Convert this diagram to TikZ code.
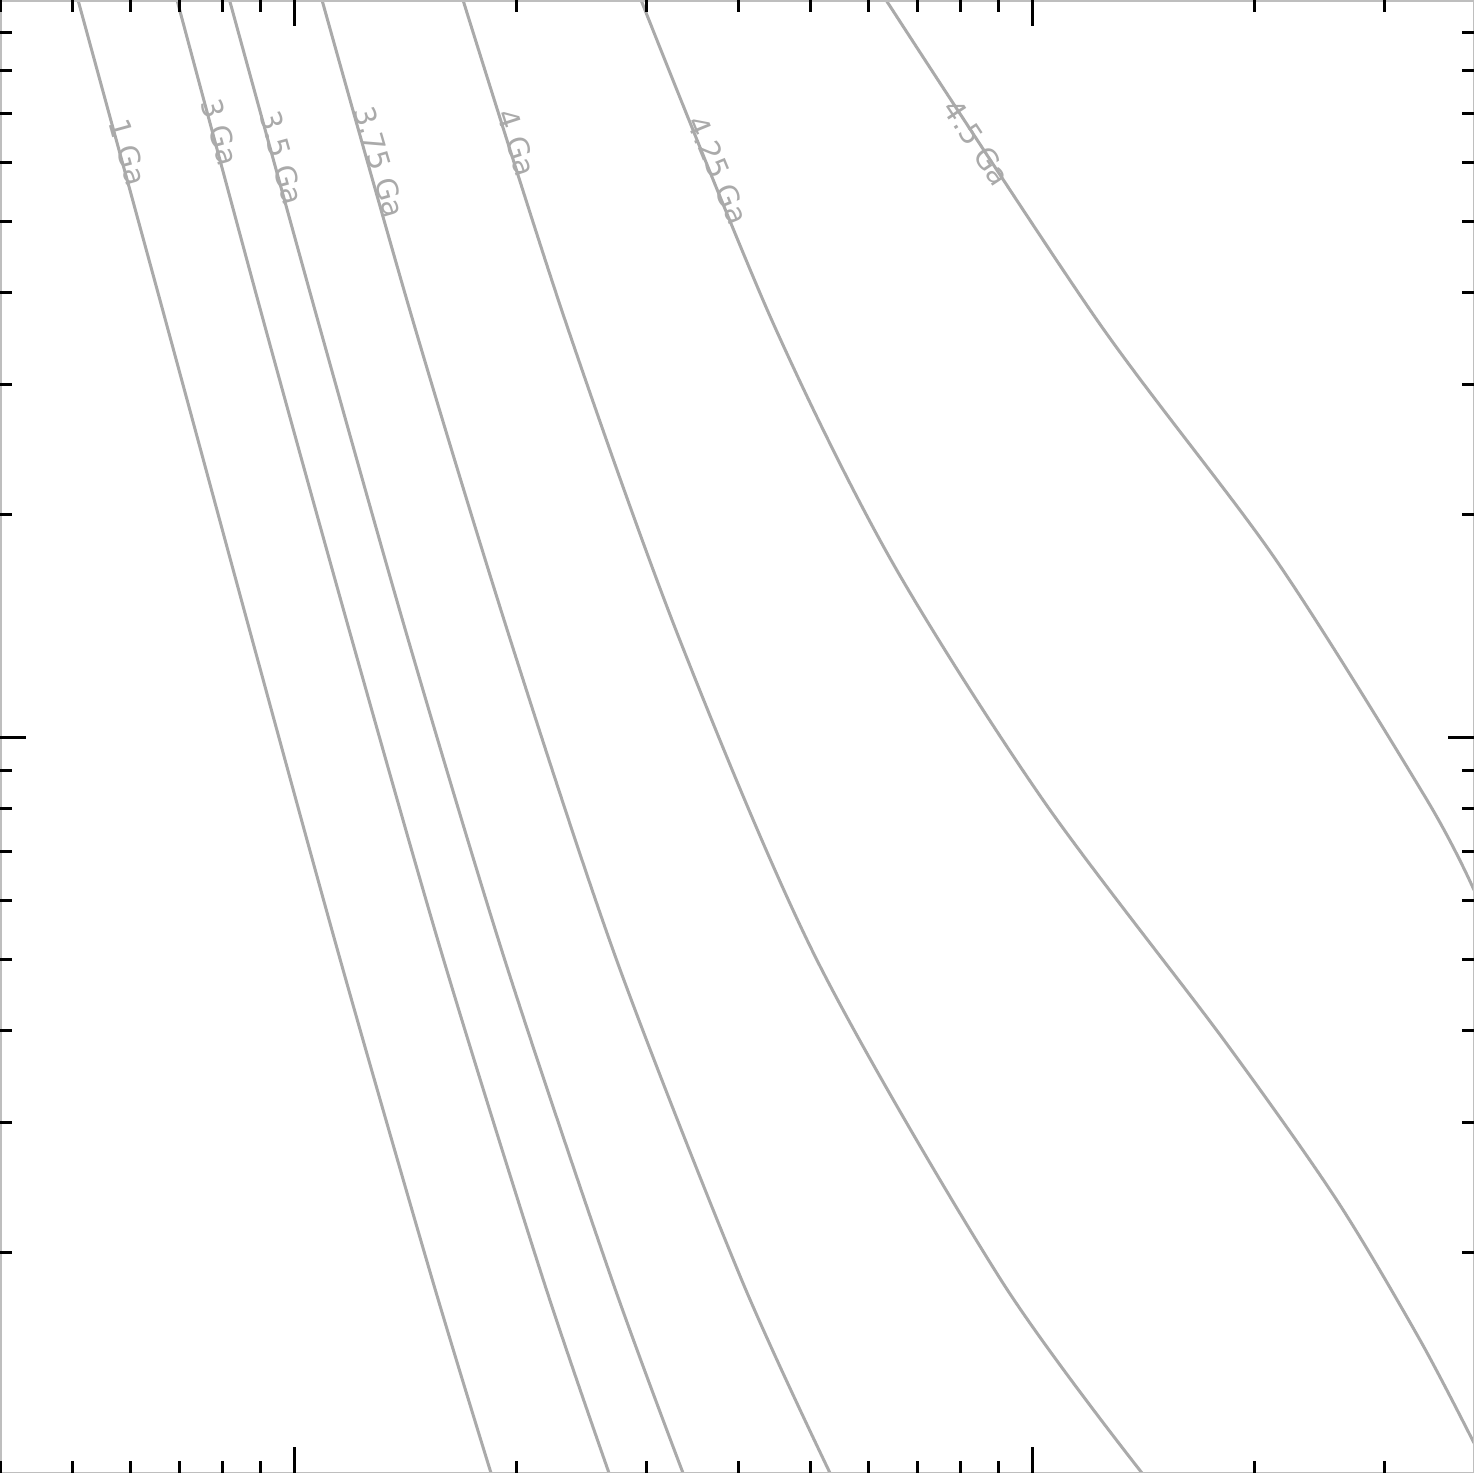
\documentclass[tikz,border=0pt]{standalone}
\usepackage{fontspec}
\setmainfont{DejaVu Sans}
\definecolor{cgray}{RGB}{170,170,170}
\definecolor{fgray}{RGB}{190,190,190}
\begin{document}
\begin{tikzpicture}[x=0.5pt,y=-0.5pt,
  curve/.style={cgray, line width=1.5pt},
  lbl/.style={text=cgray, font=\fontsize{14.5}{17}\selectfont, inner sep=0pt},
  tickmin/.style={black, line width=1.5pt},
  tickmaj/.style={black, line width=1.5pt},
  frame/.style={fgray, line width=0.75pt}]
\useasboundingbox (0,0) rectangle (1474,1473);
\fill[white] (0,0) rectangle (1474,1473);
\begin{scope}
\clip (0,0) rectangle (1474,1473);
% 1 Ga
\draw[curve] plot[smooth] coordinates {(78,0) (165.4,320) (252.3,640) (340.3,960) (432.4,1280) (491,1473)};
% 3 Ga
\draw[curve] plot[smooth] coordinates {(177,0) (263.2,320) (352,640) (443.7,960) (543.3,1280) (609,1473)};
% 3.5 Ga
\draw[curve] plot[smooth] coordinates {(229.5,0) (317.7,320) (408.3,640) (504.8,960) (612,1280) (683,1473)};
% 3.75 Ga
\draw[curve] plot[smooth] coordinates {(322,0) (412.7,320) (510.4,640) (616.6,960) (741.7,1280) (830,1473)};
% 4 Ga
\draw[curve] plot[smooth] coordinates {(463,0) (565,320) (679.8,640) (816.9,960) (1001,1280) (1142,1473)};
% 4.25 Ga
\draw[curve] plot[smooth] coordinates {(641,0) (771.7,320) (891,560) (1043,800) (1223.9,1040) (1336.7,1200) (1420,1340) (1474,1443)};
% 4.5 Ga
\draw[curve] plot[smooth] coordinates {(886,0) (1097,320) (1276,560) (1427,800) (1474,890)};
\end{scope}
% labels
\node[lbl, rotate=-74.6] (l1) at (128,152) {1 Ga};
\node[lbl, rotate=-74.7] (l3) at (220,132) {3 Ga};
\node[lbl, rotate=-74.6] (l35) at (282,158) {3.5 Ga};
\node[lbl, rotate=-73.7] (l375) at (380,162) {3.75 Ga};
\node[lbl, rotate=-72] (l4) at (517,143) {4 Ga};
\node[lbl, rotate=-67.7] (l425) at (718,170) {4.25 Ga};
\node[lbl, rotate=-56.6] (l45) at (977,143) {4.5 Ga};
% frame
\draw[frame] (0.75,0.75) rectangle (1473.25,1472.25);
% x ticks
\foreach \x in {0.3,72,130.3,179.7,222.4,260.2,516,646,738,810,868.4,917.6,960.4,998.3,1254,1384} {
  \draw[tickmin] (\x,0) -- (\x,12);
  \draw[tickmin] (\x,1473) -- (\x,1461);
}
\foreach \x in {294,1032} {
  \draw[tickmaj] (\x,0) -- (\x,26);
  \draw[tickmaj] (\x,1473) -- (\x,1447);
}
% y ticks
\foreach \y in {32.8,70.8,113.5,162.7,221.2,292.7,384.9,514.8,770.8,808.5,851.5,900.7,959.2,1030.7,1122.9,1252.9} {
  \draw[tickmin] (0,\y) -- (12,\y);
  \draw[tickmin] (1474,\y) -- (1462,\y);
}
\foreach \y in {737} {
  \draw[tickmaj] (0,\y) -- (26,\y);
  \draw[tickmaj] (1474,\y) -- (1448,\y);
}
\end{tikzpicture}
\end{document}
